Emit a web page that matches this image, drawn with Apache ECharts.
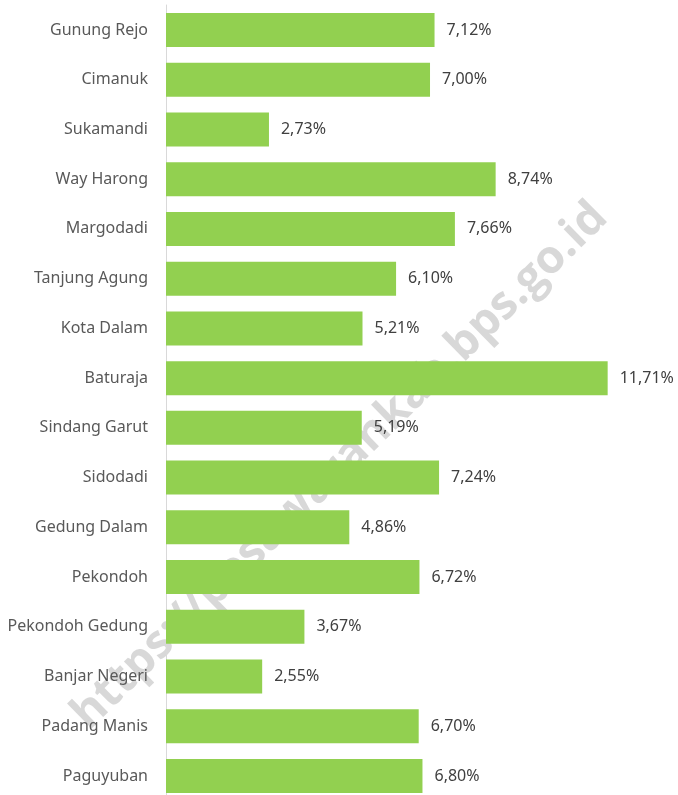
<!DOCTYPE html>
<html lang="id">
<head>
    <meta charset="UTF-8">
    <script type="text/javascript" src="https://cdn.jsdelivr.net/npm/echarts@6/dist/echarts.min.js"></script>
    <title>Persentase per Desa</title>
    <style type="text/css">
        html, body { margin: 0; padding: 0; background: #fff; }
        #chart { width: 678px; height: 795px; }
    </style>
</head>
<body>
<div id="chart"></div>
<script type="text/javascript">
    const desa = ['Gunung Rejo', 'Cimanuk', 'Sukamandi', 'Way Harong', 'Margodadi', 'Tanjung Agung',
        'Kota Dalam', 'Baturaja', 'Sindang Garut', 'Sidodadi', 'Gedung Dalam', 'Pekondoh',
        'Pekondoh Gedung', 'Banjar Negeri', 'Padang Manis', 'Paguyuban'];
    const persen = [7.12, 7.00, 2.73, 8.74, 7.66, 6.10, 5.21, 11.71, 5.19, 7.24, 4.86, 6.72,
        3.67, 2.55, 6.70, 6.80];
    const watermark = 'https://pesawarankab.bps.go.id';

    let chart = echarts.init(document.getElementById('chart'));

    let option = {
        animation: false,
        textStyle: { fontFamily: 'Noto Sans' },
        graphic: [{
            type: 'text',
            x: 340,
            y: 466,
            rotation: Math.PI * 44.5 / 180,
            z: -10,
            silent: true,
            style: {
                text: watermark,
                font: 'bold 46px "Open Sans"',
                fill: 'rgba(200,200,200,0.7)',
                align: 'center',
                verticalAlign: 'middle'
            }
        }],
        grid: [
            // bars: categories centred on the ticks, first at y=30, last at y=776
            { left: 166, top: 30, width: 452.6, height: 746 },
            // only carries the full-height axis line on the left
            { left: 166, top: 5, width: 452.6, height: 790 }
        ],
        xAxis: [
            { type: 'value', min: 0, max: 12, show: false, gridIndex: 0 },
            { type: 'value', min: 0, max: 12, show: false, gridIndex: 1 }
        ],
        yAxis: [{
            type: 'category',
            gridIndex: 0,
            inverse: true,
            boundaryGap: false,
            data: desa,
            axisLine: { show: false },
            axisTick: { show: false },
            splitLine: { show: false },
            axisLabel: {
                margin: 18,
                fontSize: 16,
                color: '#595959'
            }
        }, {
            type: 'value',
            gridIndex: 1,
            axisLine: { show: true, lineStyle: { color: '#d9d9d9', width: 1 } },
            axisTick: { show: false },
            axisLabel: { show: false },
            splitLine: { show: false }
        }],
        series: [{
            type: 'bar',
            xAxisIndex: 0,
            yAxisIndex: 0,
            data: persen,
            barWidth: 34,
            itemStyle: { color: '#92d050' },
            label: {
                show: true,
                position: 'right',
                distance: 12,
                fontSize: 16,
                color: '#404040',
                formatter: p => p.value.toFixed(2).replace('.', ',') + '%'
            }
        }]
    };
    chart.setOption(option);
</script>
</body>
</html>
